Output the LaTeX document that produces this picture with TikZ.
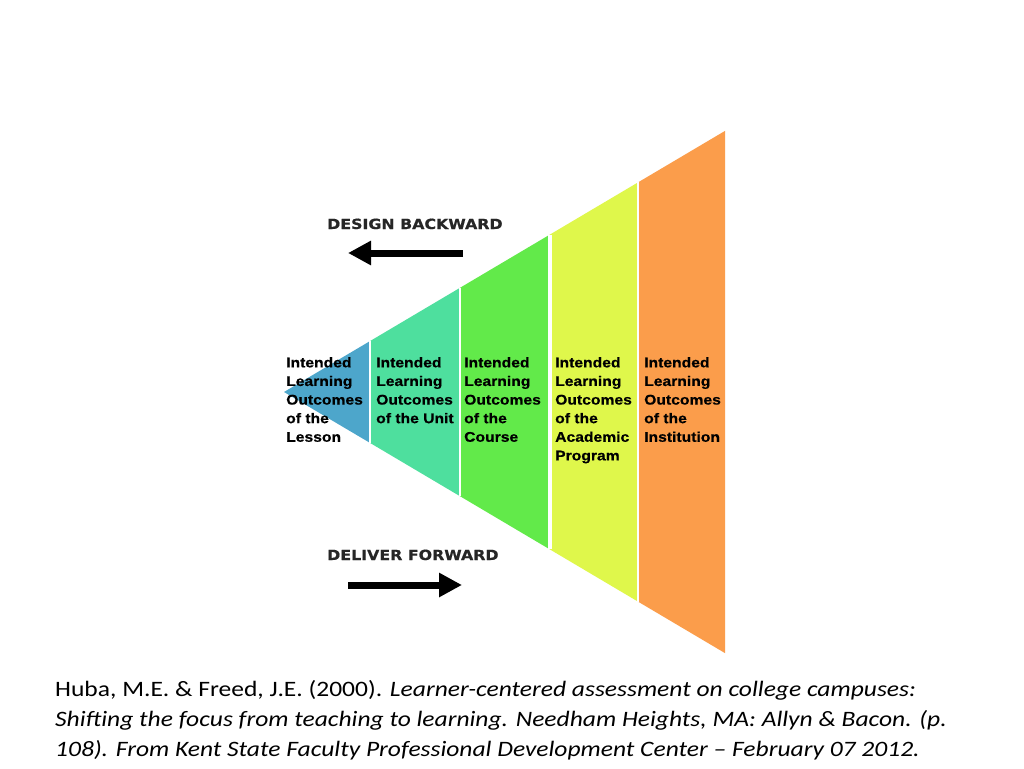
\documentclass[tikz,border=0pt]{standalone}
\usepackage{fontspec}
\setmainfont[FakeStretch=1.16]{Carlito}
\newfontfamily\cellfont[FakeStretch=1.12,FakeBold=0.5]{Liberation Sans}
\newfontfamily\headfont[FakeStretch=1.13,FakeBold=0.6]{DejaVu Sans}
\usetikzlibrary{arrows.meta}
\definecolor{cBlue}{HTML}{4DA6CB}
\definecolor{cTeal}{HTML}{4EDF9E}
\definecolor{cGreen}{HTML}{62EA4A}
\definecolor{cYellow}{HTML}{DFF74B}
\definecolor{cOrange}{HTML}{FB9D4B}
\begin{document}
\begin{tikzpicture}[x=1pt,y=-1pt,
  cell/.style={anchor=north west, inner sep=0pt, align=left,
    font=\cellfont\bfseries\fontsize{14}{18.6}\selectfont},
  head/.style={anchor=base west, inner sep=0pt,
    font=\headfont\bfseries\fontsize{14}{16}\selectfont, text=black!85},
  cite/.style={anchor=base west, inner sep=0pt,
    font=\fontsize{22}{30}\selectfont},
  sep/.style={draw=white, line width=2.5pt},
  bigarrow/.style={line width=7pt, -{Triangle[length=23pt,width=23pt]}}]
\useasboundingbox[fill=white] (0,0) rectangle (1024,768);

% slices of the cone
\fill[cBlue]   (284,392) -- (370,341.1) -- (370,442.9) -- cycle;
\fill[cTeal]   (370,341.1) -- (460,287.8) -- (460,496.2) -- (370,442.9) -- cycle;
\fill[cGreen]  (460,287.8) -- (549,235.1) -- (549,548.9) -- (460,496.2) -- cycle;
\fill[cYellow] (549,235.1) -- (638,182.4) -- (638,601.6) -- (549,548.9) -- cycle;
\fill[cOrange] (638,182.4) -- (725,130.9) -- (725,653.1) -- (638,601.6) -- cycle;
\draw[sep] (370,341.1) -- (370,442.9);
\draw[sep] (460,287.8) -- (460,496.2);
\draw[sep, line width=3.5pt] (550,235.1) -- (550,548.9);
\draw[sep, line width=1.5pt] (638,182.4) -- (638,601.6);

% labels
\node[cell] (lesson) at (286,357) {Intended\\Learning\\Outcomes\\of the\\Lesson};
\node[cell] (unit) at (376,357) {Intended\\Learning\\Outcomes\\of the Unit};
\node[cell] (course) at (464,357) {Intended\\Learning\\Outcomes\\of the\\Course};
\node[cell] (program) at (555,357) {Intended\\Learning\\Outcomes\\of the\\Academic\\Program};
\node[cell] (inst) at (644,357) {Intended\\Learning\\Outcomes\\of the\\Institution};

% headings and arrows
\node[head] (design) at (327,229) {DESIGN BACKWARD};
\node[head] (deliver) at (327,560) {DELIVER FORWARD};
\coordinate (bkS) at (463,253);
\coordinate (bkE) at (348,253);
\coordinate (fwS) at (348,585);
\coordinate (fwE) at (462,585);
\draw[bigarrow] (bkS) -- (bkE);
\draw[bigarrow] (fwS) -- (fwE);

% citation
\node[cite] (cite1) at (55,696) {Huba, M.E. \& Freed, J.E. (2000). \textit{Learner-centered assessment on college campuses:}};
\node[cite] (cite2) at (55,726) {\textit{Shifting the focus from teaching to learning. Needham Heights, MA: Allyn \& Bacon. (p.}};
\node[cite] (cite3) at (55,756) {\textit{108). From Kent State Faculty Professional Development Center – February 07 2012.}};
\end{tikzpicture}
\end{document}
